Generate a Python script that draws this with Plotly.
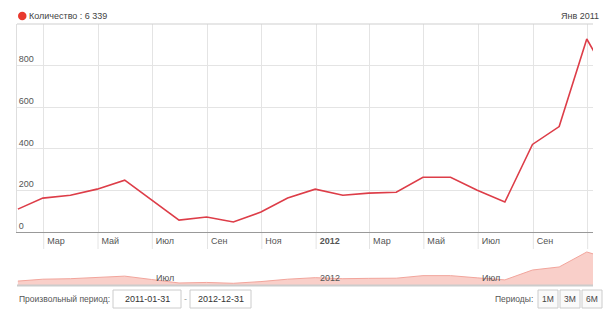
import plotly.graph_objects as go

# ---------------- data ----------------
dates = ["2011-01-31", "2011-02-28", "2011-03-31", "2011-04-30", "2011-05-31", "2011-06-30",
         "2011-07-31", "2011-08-31", "2011-09-30", "2011-10-31", "2011-11-30", "2011-12-31",
         "2012-01-31", "2012-02-29", "2012-03-31", "2012-04-30", "2012-05-31", "2012-06-30",
         "2012-07-31", "2012-08-31", "2012-09-30", "2012-10-31", "2012-11-30", "2012-12-31"]
values = [110, 163, 177, 206, 249, 155, 57, 72, 48, 96, 163, 206,
          177, 187, 191, 263, 263, 201, 144, 421, 507, 928, 703, 652]

x_tick_vals = ["2011-03-01", "2011-05-01", "2011-07-01", "2011-09-01", "2011-11-01", "2012-01-01",
               "2012-03-01", "2012-05-01", "2012-07-01", "2012-09-01", "2012-11-01"]
x_tick_text = ["Мар", "Май", "Июл", "Сен", "Ноя", "<b>2012</b>", "Мар", "Май", "Июл", "Сен", "Ноя"]
y_tick_vals = [0, 200, 400, 600, 800]
y_tick_text = ["0", "200", "400", "600", "800"]
nav_tick_vals = ["2011-07-01", "2012-01-01", "2012-07-01"]
nav_tick_text = ["Июл", "2012", "Июл"]

series_name = "Количество"
total_text = "6 339"
period_label = "Янв 2011"
date_from = "2011-01-31"
date_to = "2012-12-31"
period_buttons = ["1M", "3M", "6M"]

# ---------------- layout helpers ----------------
W, H = 607, 319
def px(x):
    return x / W
def py(y):
    return 1 - y / H

FONT = "Liberation Sans, Arial, sans-serif"
LINE_COLOR = "#dd3d48"
GRID = "#e4e4e4"
TXT = "#555555"
x_range = ["2011-01-30", "2012-11-07"]

fig = go.Figure()
fig.add_trace(go.Scatter(x=dates, y=values, mode="lines",
                         line=dict(color=LINE_COLOR, width=1.6),
                         xaxis="x", yaxis="y", showlegend=False))
fig.add_trace(go.Scatter(x=dates, y=values, mode="lines", fill="tozeroy",
                         line=dict(color="#f2a59c", width=1),
                         fillcolor="rgba(245,175,165,0.6)",
                         xaxis="x2", yaxis="y2", showlegend=False))

shapes = []
# top border of the main plot
shapes.append(dict(type="line", xref="paper", yref="paper", x0=px(17), x1=px(593),
                   y0=py(24), y1=py(24), line=dict(color="#cfcfcf", width=1)))
# gridlines extending through the tick label row
for tv in x_tick_vals:
    shapes.append(dict(type="line", xref="x", yref="paper", x0=tv, x1=tv,
                       y0=py(232), y1=py(249), line=dict(color=GRID, width=1), layer="below"))
# navigator bottom line
shapes.append(dict(type="line", xref="paper", yref="paper", x0=px(17), x1=px(593),
                   y0=py(285.5), y1=py(285.5), line=dict(color="#cccccc", width=2)))
# the chart frame is cut off at the right edge
shapes.append(dict(type="rect", xref="paper", yref="paper", x0=px(593.5), x1=px(607),
                   y0=py(287), y1=py(24), line=dict(width=0), fillcolor="white", layer="above"))

annotations = []
# legend
annotations.append(dict(x=px(27), y=py(16), xref="paper", yref="paper", xanchor="left",
                        yanchor="middle", showarrow=False,
                        text=f"{series_name} : {total_text}",
                        font=dict(family=FONT, size=9, color="#444444")))
annotations.append(dict(x=px(601), y=py(16), xref="paper", yref="paper", xanchor="right",
                        yanchor="middle", showarrow=False, text=period_label,
                        font=dict(family=FONT, size=9, color="#444444")))
# navigator labels
for tv, tt in zip(nav_tick_vals, nav_tick_text):
    annotations.append(dict(x=tv, y=py(278), xref="x2", yref="paper", xanchor="left",
                            yanchor="middle", xshift=2, showarrow=False, text=tt,
                            font=dict(family=FONT, size=9, color="#555555")))
# bottom controls
annotations.append(dict(x=px(17), y=py(299), xref="paper", yref="paper", xanchor="left",
                        yanchor="middle", showarrow=False, text="Произвольный период:",
                        font=dict(family=FONT, size=8.5, color=TXT)))
for x0, x1, t in [(113, 181, date_from), (190, 251, date_to)]:
    shapes.append(dict(type="rect", xref="paper", yref="paper", x0=px(x0), x1=px(x1),
                       y0=py(308), y1=py(290), line=dict(color="#cccccc", width=1),
                       fillcolor="white"))
    annotations.append(dict(x=px((x0 + x1) / 2), y=py(299), xref="paper", yref="paper",
                            xanchor="center", yanchor="middle", showarrow=False, text=t,
                            font=dict(family=FONT, size=9, color="#333333")))
annotations.append(dict(x=px(185.5), y=py(299), xref="paper", yref="paper", xanchor="center",
                        yanchor="middle", showarrow=False, text="-",
                        font=dict(family=FONT, size=9, color="#999999")))
annotations.append(dict(x=px(535), y=py(299), xref="paper", yref="paper", xanchor="right",
                        yanchor="middle", showarrow=False, text="Периоды:",
                        font=dict(family=FONT, size=8.5, color=TXT)))
for i, b in enumerate(period_buttons):
    x0 = 538 + i * 22
    shapes.append(dict(type="rect", xref="paper", yref="paper", x0=px(x0), x1=px(x0 + 20),
                       y0=py(308), y1=py(290), line=dict(color="#cccccc", width=1),
                       fillcolor="#fafafa"))
    annotations.append(dict(x=px(x0 + 10), y=py(299), xref="paper", yref="paper",
                            xanchor="center", yanchor="middle", showarrow=False, text=b,
                            font=dict(family=FONT, size=8.5, color="#444444")))

fig.update_layout(
    width=W, height=H,
    margin=dict(l=0, r=0, t=0, b=0),
    paper_bgcolor="white", plot_bgcolor="white",
    font=dict(family=FONT, size=9, color=TXT),
    xaxis=dict(domain=[px(17), px(593)], range=x_range, type="date",
               tickvals=x_tick_vals, ticktext=x_tick_text, ticklabelposition="outside right",
               ticklabelshift=3,
               ticks="", showgrid=True, gridcolor=GRID, gridwidth=1,
               showline=True, linecolor="#999999", linewidth=1, zeroline=False,
               tickfont=dict(family=FONT, size=9, color=TXT), anchor="y"),
    yaxis=dict(domain=[py(232), py(24)], range=[0, 1000],
               tickvals=y_tick_vals, ticktext=y_tick_text, ticklabelposition="inside top",
               ticks="", showgrid=True, gridcolor=GRID, gridwidth=1,
               showline=True, linecolor="#dedede", linewidth=1, zeroline=False,
               tickfont=dict(family=FONT, size=9, color=TXT), anchor="x"),
    xaxis2=dict(domain=[px(17), px(593)], range=x_range, type="date",
                showticklabels=False, ticks="", showgrid=False, showline=False,
                zeroline=False, anchor="y2"),
    yaxis2=dict(domain=[py(285), py(248)], range=[0, 1040], showticklabels=False,
                showgrid=False, zeroline=False, showline=False, anchor="x2"),
    shapes=shapes, annotations=annotations,
)

# legend dot
fig.add_shape(type="circle", xref="paper", yref="paper", x0=px(18), x1=px(26.5),
              y0=py(20.3), y1=py(11.8), line=dict(color="#e8392e", width=0), fillcolor="#e8392e")

fig.write_html("out.html",
               post_script="document.body.style.margin='0';document.body.style.overflow='hidden';")
